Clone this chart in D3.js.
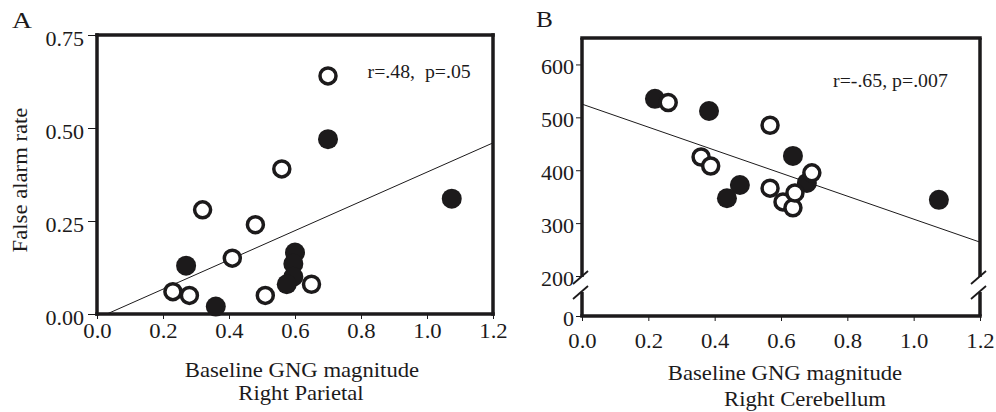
<!DOCTYPE html>
<html>
<head>
<meta charset="utf-8">
<script src="https://cdn.jsdelivr.net/npm/d3@7"></script>
<style>
  body { margin: 0; background: #fff; }
  svg { display: block; }
</style>
</head>
<body>
<script>
// valores
const xTicks = [0, 0.2, 0.4, 0.6, 0.8, 1.0, 1.2];

const parietalTicks = [0, 0.25, 0.5, 0.75];
const parietalOpenX = [0.70, 0.56, 0.32, 0.48, 0.41, 0.23, 0.28, 0.51, 0.65];
const parietalOpenY = [0.64, 0.39, 0.28, 0.24, 0.15, 0.06, 0.05, 0.05, 0.08];
const parietalFilledX = [0.70, 1.075, 0.27, 0.36, 0.60, 0.595, 0.595, 0.575];
const parietalFilledY = [0.47, 0.31, 0.13, 0.02, 0.165, 0.135, 0.10, 0.08];
const parietalFit = [[0.03, 0], [1.2, 0.46]];

const cerebTicks = [0, 200, 300, 400, 500, 600];
const cerebOpenX = [0.26, 0.567, 0.359, 0.388, 0.567, 0.606, 0.636, 0.642, 0.693];
const cerebOpenY = [528, 485, 425, 408, 366, 340, 329, 357, 395];
const cerebFilledX = [0.22, 0.383, 0.636, 0.476, 0.437, 0.678, 1.076];
const cerebFilledY = [535, 512, 427, 372, 347, 376, 344];
const cerebFit = [[0, 525], [1.2, 264]];

const FONT = "'Liberation Serif', 'Times New Roman', serif";
const INK = "#1c1a1b";

const svg = d3.select("body").append("svg")
  .attr("width", 996)
  .attr("height", 412);

// escalas
const xA = d3.scaleLinear().domain([0, 1.2]).range([97, 493]);
const yA = d3.scaleLinear().domain([0, 0.75]).range([314, 35]);
const xB = d3.scaleLinear().domain([0, 1.2]).range([582, 980]);
const yB = d3.scaleLinear().domain([0, 200, 650]).range([316, 276, 38]); // eixo quebrado

function widen(sel, k) {
  sel.each(function () {
    const w = this.getComputedTextLength();
    d3.select(this).attr("textLength", w * k).attr("lengthAdjust", "spacingAndGlyphs");
  });
}

function addText(x, y, txt, size, anchor) {
  return svg.append("text")
    .attr("x", x)
    .attr("y", y)
    .attr("text-anchor", anchor || "start")
    .attr("font-family", FONT)
    .attr("font-size", size)
    .attr("fill", INK)
    .style("white-space", "pre")
    .text(txt);
}

function drawPanel(p) {
  const g = svg.append("g");

  // eixo x
  const gx = g.append("g")
    .attr("transform", `translate(0,${p.y.range()[0]})`)
    .call(d3.axisBottom(p.x).tickValues(xTicks).tickFormat(d3.format(".1f")).tickSize(5));
  gx.select(".domain").remove();
  gx.selectAll("line").attr("stroke", INK);
  gx.selectAll("text")
    .attr("y", p.xLabelOffset).attr("dy", 0)
    .attr("font-family", FONT).attr("font-size", 21).attr("fill", INK)
    .call(widen, 1.08);

  // eixo y
  const gy = g.append("g")
    .attr("transform", `translate(${p.x.range()[0]},0)`)
    .call(d3.axisLeft(p.y).tickValues(p.yTicks).tickFormat(p.yFormat).tickSize(p.yTickSize));
  gy.select(".domain").remove();
  gy.selectAll("line").attr("stroke", INK);
  gy.selectAll("text")
    .attr("x", -p.yLabelGap).attr("dy", p.yLabelDy)
    .attr("font-family", FONT).attr("font-size", 21).attr("fill", INK)
    .call(widen, 1.05);

  // linha de regressão
  g.append("line")
    .attr("x1", p.x(p.fit[0][0])).attr("y1", p.y(p.fit[0][1]))
    .attr("x2", p.x(p.fit[1][0])).attr("y2", p.y(p.fit[1][1]))
    .attr("stroke", INK).attr("stroke-width", 1);

  // pontos cheios primeiro, abertos por cima
  g.selectAll(".filled")
    .data(p.filledX.map((v, i) => [v, p.filledY[i]]))
    .enter().append("circle")
    .attr("class", "filled")
    .attr("cx", d => p.x(d[0])).attr("cy", d => p.y(d[1]))
    .attr("r", 10)
    .attr("fill", INK);

  g.selectAll(".open")
    .data(p.openX.map((v, i) => [v, p.openY[i]]))
    .enter().append("circle")
    .attr("class", "open")
    .attr("cx", d => p.x(d[0])).attr("cy", d => p.y(d[1]))
    .attr("r", 8)
    .attr("fill", "#fff")
    .attr("stroke", INK)
    .attr("stroke-width", 3.5);

  // moldura
  const [x0, x1] = p.x.range();
  const yBot = p.y.range()[0];
  const yTop = p.y.range()[p.y.range().length - 1];
  const frame = g.append("g")
    .attr("fill", "none").attr("stroke", INK).attr("stroke-width", 3.5)
    .attr("stroke-linecap", "square");
  frame.append("line").attr("x1", x0).attr("x2", x1).attr("y1", yTop).attr("y2", yTop);
  frame.append("line").attr("x1", x0).attr("x2", x1).attr("y1", yBot).attr("y2", yBot);

  if (p.breakAt === undefined) {
    [x0, x1].forEach(x => frame.append("line").attr("x1", x).attr("x2", x).attr("y1", yTop).attr("y2", yBot));
  } else {
    const b1 = p.y(p.breakAt) + 1;
    const b2 = b1 + 15;
    [x0, x1].forEach(x => {
      frame.append("line").attr("x1", x).attr("x2", x).attr("y1", yTop).attr("y2", b1)
        .attr("stroke-linecap", "butt");
      frame.append("line").attr("x1", x).attr("x2", x).attr("y1", b2).attr("y2", yBot)
        .attr("stroke-linecap", "butt");
      [b1, b2].forEach(b => {
        g.append("line")
          .attr("x1", x - 9).attr("y1", b + 7)
          .attr("x2", x + 6).attr("y2", b - 6)
          .attr("stroke", INK).attr("stroke-width", 1.8);
      });
    });
  }
}

drawPanel({
  x: xA, y: yA, yTicks: parietalTicks, yFormat: d3.format(".2f"),
  yTickSize: 9, yLabelGap: 13, yLabelDy: 10, xLabelOffset: 24,
  openX: parietalOpenX, openY: parietalOpenY,
  filledX: parietalFilledX, filledY: parietalFilledY,
  fit: parietalFit
});

drawPanel({
  x: xB, y: yB, yTicks: cerebTicks, yFormat: d3.format("d"),
  yTickSize: 6, yLabelGap: 8, yLabelDy: 9, xLabelOffset: 32,
  openX: cerebOpenX, openY: cerebOpenY,
  filledX: cerebFilledX, filledY: cerebFilledY,
  fit: cerebFit, breakAt: 200
});

// textos
addText(12, 28, "A", 23).call(widen, 1.2);
addText(536, 27, "B", 23).call(widen, 1.1);

addText(xA(0.82), yA(0.635), "r=.48,  p=.05", 18).call(widen, 1.1);
addText(xB(0.757), yB(557), "r=-.65, p=.007", 18).call(widen, 1.1);

addText(302, 377, "Baseline GNG magnitude", 21, "middle").call(widen, 1.08);
addText(301, 400, "Right Parietal", 21, "middle").call(widen, 1.08);
addText(785, 380, "Baseline GNG magnitude", 21, "middle").call(widen, 1.08);
addText(805, 406, "Right Cerebellum", 21, "middle").call(widen, 1.08);

addText(0, 0, "False alarm rate", 21, "middle")
  .attr("transform", "translate(27,180) rotate(-90)")
  .call(widen, 1.08);
</script>
</body>
</html>
